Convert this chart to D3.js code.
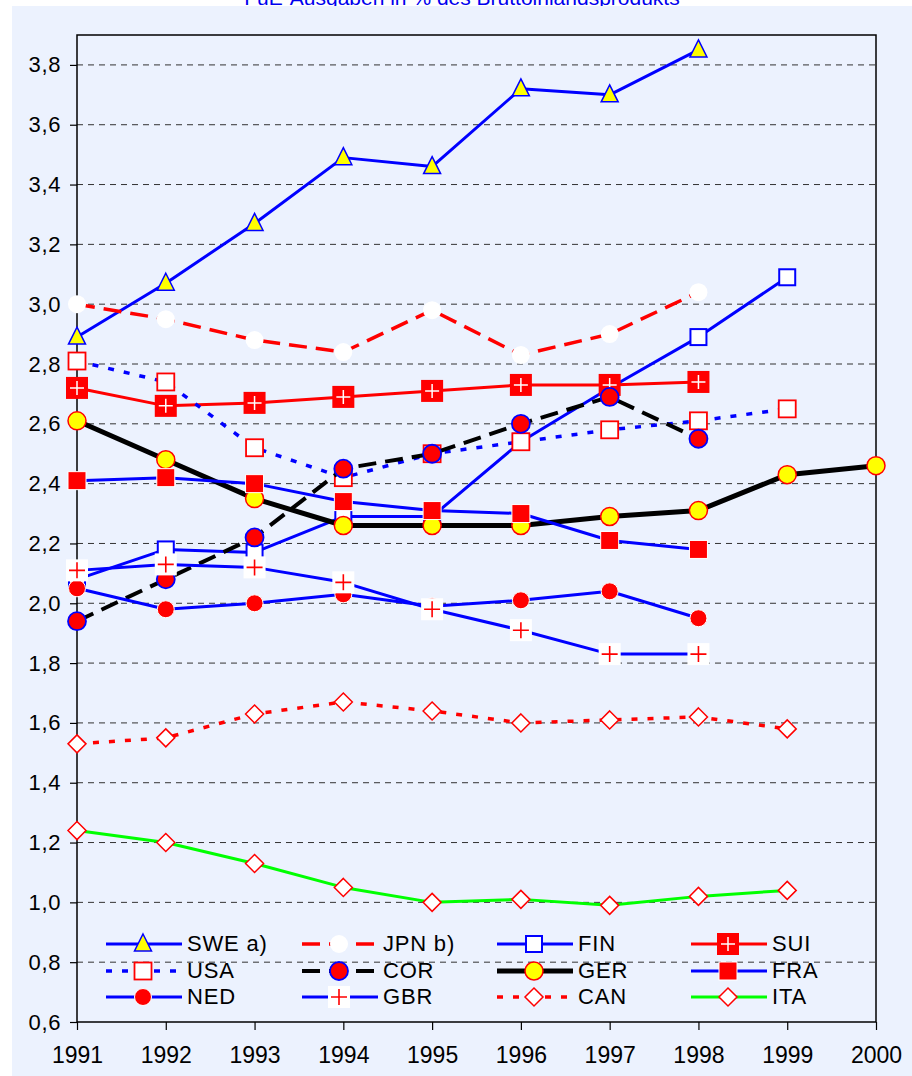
<!DOCTYPE html>
<html>
<head>
<meta charset="utf-8">
<script src="https://cdn.jsdelivr.net/npm/d3@7"></script>
<style>
  body { margin: 0; background: #fff; }
  svg { display: block; font-family: Arial, "Liberation Sans", sans-serif; }
</style>
</head>
<body>
<div id="chart"></div>
<script>
// Chart data (R&D spending in % of GDP)
const years = [1991, 1992, 1993, 1994, 1995, 1996, 1997, 1998, 1999, 2000];
const yTicks = [0.6, 0.8, 1.0, 1.2, 1.4, 1.6, 1.8, 2.0, 2.2, 2.4, 2.6, 2.8, 3.0, 3.2, 3.4, 3.6, 3.8];
const titleText = "FuE-Ausgaben in % des Bruttoinlandsprodukts";

const sweValues = [2.89, 3.07, 3.27, 3.49, 3.46, 3.72, 3.70, 3.85];
const jpnValues = [3.00, 2.95, 2.88, 2.84, 2.98, 2.83, 2.90, 3.04];
const finValues = [2.08, 2.18, 2.17, 2.29, 2.29, 2.54, 2.72, 2.89, 3.09];
const suiValues = [2.72, 2.66, 2.67, 2.69, 2.71, 2.73, 2.73, 2.74];
const usaValues = [2.81, 2.74, 2.52, 2.42, 2.50, 2.54, 2.58, 2.61, 2.65];
const corValues = [1.94, 2.08, 2.22, 2.45, 2.50, 2.60, 2.69, 2.55];
const gerValues = [2.61, 2.48, 2.35, 2.26, 2.26, 2.26, 2.29, 2.31, 2.43, 2.46];
const fraValues = [2.41, 2.42, 2.40, 2.34, 2.31, 2.30, 2.21, 2.18];
const nedValues = [2.05, 1.98, 2.00, 2.03, 1.99, 2.01, 2.04, 1.95];
const gbrValues = [2.11, 2.13, 2.12, 2.07, 1.98, 1.91, 1.83, 1.83];
const canValues = [1.53, 1.55, 1.63, 1.67, 1.64, 1.60, 1.61, 1.62, 1.58];
const itaValues = [1.24, 1.20, 1.13, 1.05, 1.00, 1.01, 0.99, 1.02, 1.04];

// Series styles (draw order = legend order)
const series = [
  { name: "SWE a)", values: sweValues, color: "#0000ff", width: 3,   dash: null,   marker: "triangle" },
  { name: "JPN b)", values: jpnValues, color: "#ff0000", width: 3.5, dash: "18,9", marker: "whiteCircle" },
  { name: "FIN",    values: finValues, color: "#0000ff", width: 3,   dash: null,   marker: "blueSquare" },
  { name: "SUI",    values: suiValues, color: "#ff0000", width: 3,   dash: null,   marker: "swissSquare" },
  { name: "USA",    values: usaValues, color: "#0000ff", width: 3.5, dash: "6,10", marker: "redSquare" },
  { name: "COR",    values: corValues, color: "#000000", width: 4,   dash: "18,9", marker: "corCircle" },
  { name: "GER",    values: gerValues, color: "#000000", width: 5,   dash: null,   marker: "gerCircle" },
  { name: "FRA",    values: fraValues, color: "#0000ff", width: 3,   dash: null,   marker: "filledSquare" },
  { name: "NED",    values: nedValues, color: "#0000ff", width: 3,   dash: null,   marker: "redDot" },
  { name: "GBR",    values: gbrValues, color: "#0000ff", width: 3,   dash: null,   marker: "crossSquare" },
  { name: "CAN",    values: canValues, color: "#ff0000", width: 3.5, dash: "6,10", marker: "diamond" },
  { name: "ITA",    values: itaValues, color: "#00ff00", width: 3,   dash: null,   marker: "diamond" }
];

//******************************************************************************************** */
const width = 912;
const height = 1076;
const plot = { left: 77, top: 35, right: 876, bottom: 1022 };

const svg = d3.select("#chart")
  .append("svg")
  .attr("width", width)
  .attr("height", height);

// Title (mostly cut off at the top edge)
svg.append("text")
  .attr("x", 462)
  .attr("y", 5)
  .attr("text-anchor", "middle")
  .attr("fill", "#0000ee")
  .style("font-size", "21px")
  .text(titleText);

// Light blue chart background
svg.append("rect")
  .attr("x", 12)
  .attr("y", 6)
  .attr("width", width - 12)
  .attr("height", height - 6)
  .attr("fill", "#ecf2fe");

const x = d3.scaleLinear()
  .domain([d3.min(years), d3.max(years)])
  .range([plot.left, plot.right]);

const y = d3.scaleLinear()
  .domain([0.6, 3.9])
  .range([plot.bottom, plot.top]);

// Dashed gridlines
svg.append("g")
  .selectAll("line")
  .data(yTicks.slice(1))
  .enter()
  .append("line")
  .attr("x1", plot.left)
  .attr("x2", plot.right)
  .attr("y1", (d) => y(d))
  .attr("y2", (d) => y(d))
  .attr("stroke", "#333")
  .attr("stroke-width", 1)
  .attr("stroke-dasharray", "6,5");

// Y axis
const yAxis = svg.append("g")
  .attr("transform", `translate(${plot.left},0)`)
  .call(d3.axisLeft(y)
    .tickValues(yTicks)
    .tickSize(7)
    .tickPadding(9)
    .tickFormat((d) => d.toFixed(1).replace(".", ",")));
yAxis.select(".domain").remove();
yAxis.selectAll("line").attr("stroke", "#000").attr("stroke-width", 1.2);
yAxis.selectAll("text")
  .attr("fill", "#000")
  .style("font-size", "22px")
  .style("letter-spacing", "0.6px");

// X axis
const xAxis = svg.append("g")
  .attr("transform", `translate(0,${plot.bottom})`)
  .call(d3.axisBottom(x)
    .tickValues(years)
    .tickSize(8)
    .tickFormat(d3.format("d")));
xAxis.select(".domain").remove();
xAxis.selectAll("line").attr("stroke", "#000").attr("stroke-width", 1.2);
xAxis.selectAll("text")
  .attr("fill", "#000")
  .attr("y", 41)
  .attr("dy", 0)
  .style("font-size", "23px");

// Plot frame
svg.append("rect")
  .attr("x", plot.left)
  .attr("y", plot.top)
  .attr("width", plot.right - plot.left)
  .attr("height", plot.bottom - plot.top)
  .attr("fill", "none")
  .attr("stroke", "#000")
  .attr("stroke-width", 1.5);

//******************************************************************************************** */
// Marker drawing
function addMarker(parent, type, cx, cy) {
  const g = parent.append("g").attr("transform", `translate(${cx},${cy})`);
  if (type === "triangle") {
    g.append("path").attr("d", "M0,-10L8.5,7L-8.5,7Z")
      .attr("fill", "#ffff00").attr("stroke", "#0000ff").attr("stroke-width", 1.5);
  } else if (type === "whiteCircle") {
    g.append("circle").attr("r", 9).attr("fill", "#fff");
  } else if (type === "blueSquare") {
    g.append("rect").attr("x", -8).attr("y", -8).attr("width", 16).attr("height", 16)
      .attr("fill", "#fff").attr("stroke", "#0000ff").attr("stroke-width", 2);
  } else if (type === "swissSquare") {
    g.append("rect").attr("x", -11).attr("y", -11).attr("width", 22).attr("height", 22)
      .attr("fill", "#ff0000");
    g.append("path").attr("d", "M-7,0H7M0,-7V7")
      .attr("stroke", "#fff").attr("stroke-width", 1.5);
  } else if (type === "redSquare") {
    g.append("rect").attr("x", -8.5).attr("y", -8.5).attr("width", 17).attr("height", 17)
      .attr("fill", "#fff").attr("stroke", "#ff0000").attr("stroke-width", 1.8);
  } else if (type === "corCircle") {
    g.append("circle").attr("r", 9)
      .attr("fill", "#ff0000").attr("stroke", "#0000ff").attr("stroke-width", 1.8);
  } else if (type === "gerCircle") {
    g.append("circle").attr("r", 9)
      .attr("fill", "#ffff00").attr("stroke", "#ff0000").attr("stroke-width", 1.5);
  } else if (type === "filledSquare") {
    g.append("rect").attr("x", -9).attr("y", -9).attr("width", 18).attr("height", 18)
      .attr("fill", "#ff0000").attr("stroke", "#fff").attr("stroke-width", 1);
  } else if (type === "redDot") {
    g.append("circle").attr("r", 8.5)
      .attr("fill", "#ff0000").attr("stroke", "#fff").attr("stroke-width", 1);
  } else if (type === "crossSquare") {
    g.append("rect").attr("x", -11).attr("y", -11).attr("width", 22).attr("height", 22)
      .attr("fill", "#fff");
    g.append("path").attr("d", "M-8,0H8M0,-8V8")
      .attr("stroke", "#ff0000").attr("stroke-width", 1.6);
  } else if (type === "diamond") {
    g.append("path").attr("d", "M0,-9L9,0L0,9L-9,0Z")
      .attr("fill", "#fff").attr("stroke", "#ff0000").attr("stroke-width", 1.5);
  }
}

// Series lines and markers
const line = d3.line()
  .x((d) => x(d.year))
  .y((d) => y(d.value));

series.forEach((s) => {
  const points = s.values.map((v, i) => ({ year: years[i], value: v }));
  const g = svg.append("g");
  g.append("path")
    .datum(points)
    .attr("d", line)
    .attr("fill", "none")
    .attr("stroke", s.color)
    .attr("stroke-width", s.width)
    .attr("stroke-dasharray", s.dash)
    .attr("stroke-linejoin", "round");
  points.forEach((p) => addMarker(g, s.marker, x(p.year), y(p.value)));
});

//******************************************************************************************** */
// Legend (4 columns x 3 rows)
const legendCols = [106, 302, 497, 691];
const legendRows = [944, 971, 997];
const legendLineLength = 76;

series.forEach((s, i) => {
  const lx = legendCols[i % 4];
  const ly = legendRows[Math.floor(i / 4)];
  const g = svg.append("g");
  g.append("line")
    .attr("x1", lx)
    .attr("x2", lx + legendLineLength)
    .attr("y1", ly)
    .attr("y2", ly)
    .attr("stroke", s.color)
    .attr("stroke-width", s.width)
    .attr("stroke-dasharray", s.dash);
  addMarker(g, s.marker, lx + 37, ly);
  g.append("text")
    .attr("x", lx + 81)
    .attr("y", ly + 7)
    .attr("fill", "#000")
    .style("font-size", "22px")
    .style("letter-spacing", "0.8px")
    .text(s.name);
});
</script>
</body>
</html>
